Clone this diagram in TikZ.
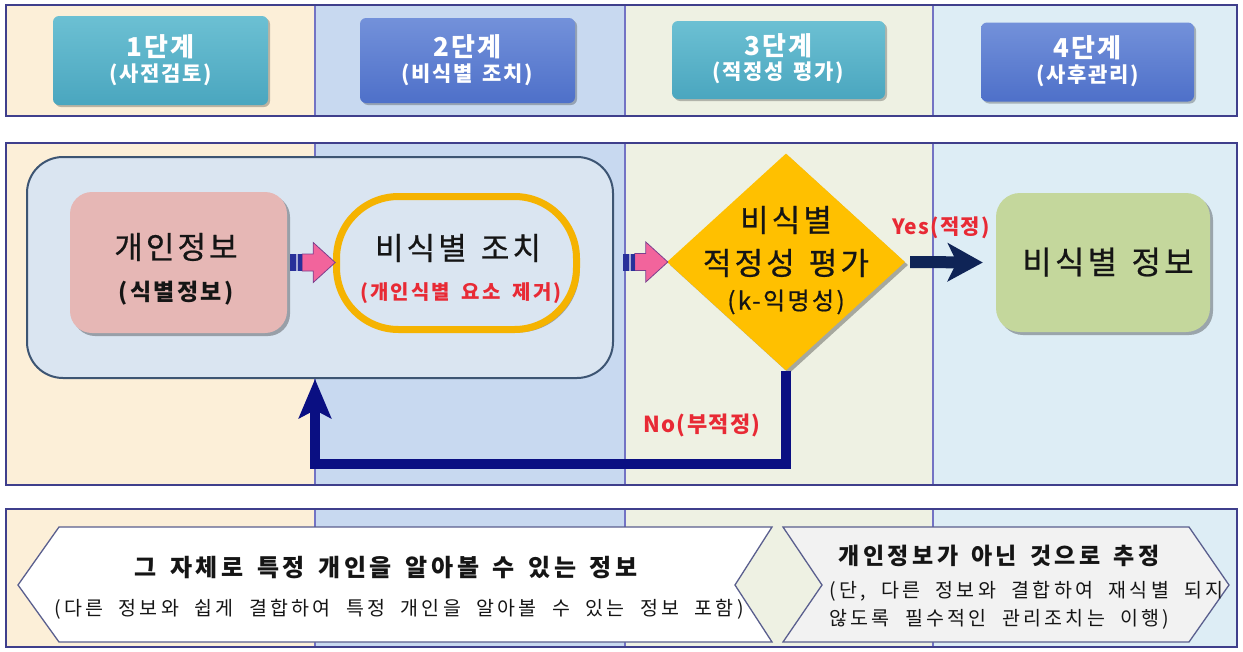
\documentclass[tikz,border=0pt]{standalone}
\usepackage{fontspec}
\setmainfont{Noto Sans CJK KR}
\newfontfamily\krA{Noto Sans CJK KR}[LetterSpace=10,WordSpace=1.4,FakeBold=0.7]
\newfontfamily\krB{Noto Sans CJK KR}[LetterSpace=10,WordSpace=1.8]
\newfontfamily\krT{Noto Sans CJK KR}[LetterSpace=15,WordSpace=1.5]
\newfontfamily\krS{Noto Sans CJK KR}[LetterSpace=17,WordSpace=2.0]
\newfontfamily\krR{Noto Sans CJK KR}[LetterSpace=6,WordSpace=1.5]
\newfontfamily\krH{Noto Sans CJK KR}[LetterSpace=8,WordSpace=1.5]
\usetikzlibrary{shapes.geometric,arrows.meta,shadows,calc}
\definecolor{colA}{HTML}{FCEFD8}
\definecolor{colB}{HTML}{C8D9F0}
\definecolor{colC}{HTML}{EEF1E3}
\definecolor{colD}{HTML}{DDEDF5}
\definecolor{frameC}{HTML}{3F3F8C}
\definecolor{divC}{HTML}{7373C4}
\definecolor{bigF}{HTML}{DAE5F1}
\definecolor{bigD}{HTML}{3D5573}
\definecolor{pinkF}{HTML}{E6B7B5}
\definecolor{ringC}{HTML}{F5B301}
\definecolor{diaF}{HTML}{FFC000}
\definecolor{greenF}{HTML}{C4D79C}
\definecolor{navyY}{HTML}{0F2456}
\definecolor{navyN}{HTML}{0A0F82}
\definecolor{redT}{HTML}{E82A35}
\definecolor{pkF}{HTML}{F2649C}
\definecolor{pkD}{HTML}{7B3F8E}
\definecolor{tailB}{HTML}{28309A}
\definecolor{shpD}{HTML}{5A5F8E}
\definecolor{chevR}{HTML}{F2F2F2}
\definecolor{tealT}{HTML}{6CC0D3}
\definecolor{tealB}{HTML}{4AA6BF}
\definecolor{blueT}{HTML}{7391DA}
\definecolor{blueB}{HTML}{4E70C9}
\definecolor{txtC}{HTML}{151515}
\begin{document}
\begin{tikzpicture}[x=1pt,y=-1pt,
 frame/.style={draw=frameC, line width=1.6pt},
 divider/.style={draw=divC, line width=1.3pt},
 shad/.style={drop shadow={shadow xshift=3pt, shadow yshift=-3pt, opacity=0.3, fill=black}},
 btn/.style={rounded corners=6, draw=none, drop shadow={shadow xshift=2pt, shadow yshift=-2pt, opacity=0.25, fill=black}},
 tealbtn/.style={btn, top color=tealT, bottom color=tealB},
 bluebtn/.style={btn, top color=blueT, bottom color=blueB},
 box/.style={shad, draw=none},
 txt/.style={inner sep=0pt, anchor=center, text=txtC},
 hA/.style={txt, text=white, font=\krH\bfseries\fontsize{26}{30}\selectfont},
 hB/.style={txt, text=white, font=\krH\bfseries\fontsize{21}{25}\selectfont},
 tM/.style={txt, font=\krA\fontsize{31}{35}\selectfont},
 tL/.style={txt, font=\krA\fontsize{32}{36}\selectfont},
 tS/.style={txt, font=\krB\bfseries\fontsize{23}{27}\selectfont},
 tK/.style={txt, font=\krA\fontsize{24}{28}\selectfont},
 tR/.style={txt, text=redT, font=\krB\bfseries\fontsize{20}{24}\selectfont},
 tY/.style={txt, text=redT, font=\krR\bfseries\fontsize{21}{25}\selectfont},
 tN/.style={txt, text=redT, font=\krR\bfseries\fontsize{22}{26}\selectfont},
 tBt/.style={txt, font=\krT\bfseries\fontsize{24}{28}\selectfont},
 tBt2/.style={txt, font=\krT\bfseries\fontsize{23}{27}\selectfont},
 tBs/.style={txt, font=\krS\fontsize{19.5}{23}\selectfont},
 chev/.style={draw=shpD, line width=1.3pt, line join=miter},
 yesarr/.style={draw=navyY, line width=12pt, -{Stealth[length=35pt, width=38pt, inset=9pt]}},
 noarr/.style={draw=navyN, line width=10pt, line join=miter, -{Stealth[length=39pt, width=32pt, inset=8pt]}},
 pinkarr/.pic={
   \draw[fill=pkF, draw=pkD, line width=0.8pt, line join=miter] (12,-8.5) -- (23,-8.5) -- (23,-20) -- (45,0) -- (23,20) -- (23,8.5) -- (12,8.5) -- cycle;
   \fill[tailB] (0,-8.5) rectangle (12,8.5);
   \draw[white!60!tailB, line width=1.5pt] (7,-8.5) -- (7,8.5);
 }
]
\useasboundingbox (0,0) rectangle (1243,651);
\fill[white] (0,0) rectangle (1243,651);
% bands
\foreach \ya/\yb in {5/116,143/485,509/647}{
  \fill[colA] (6,\ya) rectangle (315,\yb);
  \fill[colB] (315,\ya) rectangle (625,\yb);
  \fill[colC] (625,\ya) rectangle (933,\yb);
  \fill[colD] (933,\ya) rectangle (1237,\yb);
  \draw[divider] (315,\ya) -- (315,\yb) (625,\ya) -- (625,\yb) (933,\ya) -- (933,\yb);
  \draw[frame] (6,\ya) rectangle (1237,\yb);
}
% header buttons
\node[tealbtn, minimum width=215, minimum height=89] (h1) at (160.5,60.5) {};
\node[bluebtn, minimum width=215, minimum height=85] (h2) at (467.5,60.5) {};
\node[tealbtn, minimum width=213, minimum height=78] (h3) at (778.5,60) {};
\node[bluebtn, minimum width=213, minimum height=79] (h4) at (1087.5,62) {};
\node[hA] (h1a) at (160.5,47) {1단계};
\node[hB] (h1b) at (160.5,75) {(사전검토)};
\node[hA] (h2a) at (467.5,47) {2단계};
\node[hB] (h2b) at (467.5,75) {(비식별 조치)};
\node[hA] (h3a) at (778.5,46) {3단계};
\node[hB] (h3b) at (778.5,73) {(적정성 평가)};
\node[hA] (h4a) at (1087.5,48) {4단계};
\node[hB] (h4b) at (1087.5,76) {(사후관리)};
% middle band
\node[rounded corners=36, minimum width=586, minimum height=221, fill=bigF, draw=bigD, line width=2pt] (big) at (320,267.5) {};
\node[box, fill=pinkF, minimum width=217, minimum height=141, rounded corners=22] (p1) at (178.5,262.5) {};
\node[shad, rounded corners=62, minimum width=240, minimum height=133, draw=ringC, line width=7pt, fill=bigF] (p2) at (456.5,263) {};
\node[shad, diamond, minimum width=238, minimum height=217, inner sep=0pt, fill=diaF] (dia) at (786,262) {};
\node[box, fill=greenF, minimum width=214, minimum height=139, rounded corners=24] (p3) at (1103,262.5) {};
\node[tM] (t1a) at (176,247) {개인정보};
\node[tS] (t1b) at (176,293) {(식별정보)};
\node[tM] (t2a) at (458,248) {비식별 조치};
\node[tR] (t2b) at (461,293) {(개인식별 요소 제거)};
\node[tM] (t3a) at (786,220) {비식별};
\node[tM] (t3b) at (786,263) {적정성 평가};
\node[tK] (t3c) at (786,302) {(k-익명성)};
\node[tL] (t4) at (1108,262) {비식별 정보};
\pic at ([xshift=3pt]p1.east) {pinkarr};
\pic at ([xshift=-44pt]dia.west) {pinkarr};
\draw[yesarr] ([xshift=5pt]dia.east) -- ([xshift=-13pt]p3.west);
\draw[noarr] (dia.south) -- ++(0,93) -| ([xshift=-5pt]big.south);
\node[tY] (yes) at (941,228) {Yes(적정)};
\node[tN] (no) at (702,425) {No(부적정)};
% bottom band
\draw[chev, fill=white] (18,585) -- (59,527) -- (772,527) -- (735,585) -- (772,642) -- (59,642) -- cycle;
\draw[chev, fill=chevR] (783,527) -- (1189,527) -- (1229,585) -- (1189,642) -- (783,642) -- (822,585) -- cycle;
\node[tBt] (b1) at (386,568) {그 자체로 특정 개인을 알아볼 수 있는 정보};
\node[tBs] (b2) at (399,609) {(다른 정보와 쉽게 결합하여 특정 개인을 알아볼 수 있는 정보 포함)};
\node[tBt2] (b3) at (999,556) {개인정보가 아닌 것으로 추정};
\node[tBs, anchor=west] (b4) at (829,591) {(단, 다른 정보와 결합하여 재식별 되지};
\node[tBs, anchor=west] (b5) at (829,619) {않도록 필수적인 관리조치는 이행)};
\end{tikzpicture}
\end{document}
